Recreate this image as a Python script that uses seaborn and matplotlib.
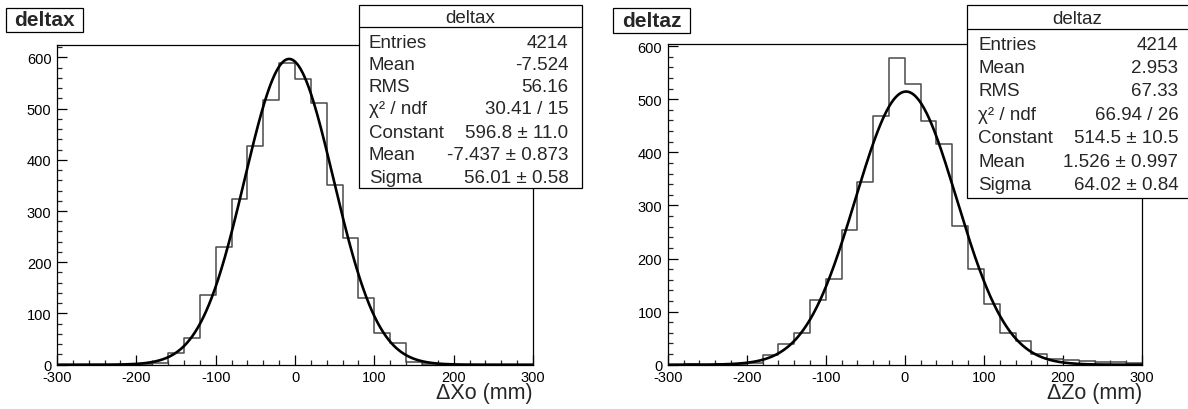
import numpy as np
import pandas as pd
import matplotlib
matplotlib.use("Agg")
import matplotlib.pyplot as plt
import seaborn as sns
from matplotlib.patches import Rectangle
from matplotlib.lines import Line2D
from matplotlib.ticker import MultipleLocator

# ---------------- data ----------------
bin_edges = list(range(-300, 301, 20))
bin_centers = [e + 10 for e in bin_edges[:-1]]

deltax_counts = [0, 0, 0, 0, 0, 1, 4, 22, 53, 136, 230, 324, 427, 516, 588,
                 558, 510, 350, 247, 131, 62, 42, 5, 2, 1, 0, 0, 0, 0, 0]
deltaz_counts = [0, 1, 0, 1, 1, 4, 18, 39, 59, 121, 161, 254, 344, 469, 577,
                 529, 459, 415, 261, 180, 114, 59, 45, 20, 11, 8, 7, 6, 5, 4]

# Gaussian fit parameters (constant, mean, sigma) from the stat boxes
deltax_fit = [596.8, -7.437, 56.01]
deltaz_fit = [514.5, 1.526, 64.02]

stat_names = ["Entries", "Mean", "RMS", "χ² / ndf", "Constant", "Mean", "Sigma"]
deltax_stat_values = ["4214", "-7.524", "56.16", "30.41 / 15",
                      "596.8 ± 11.0", "-7.437 ± 0.873", "56.01 ± 0.58"]
deltaz_stat_values = ["4214", "2.953", "67.33", "66.94 / 26",
                      "514.5 ± 10.5", "1.526 ± 0.997", "64.02 ± 0.84"]

titles = ["deltax", "deltaz"]
xlabels = ["ΔXo (mm)", "ΔZo (mm)"]
ymax = [625, 605]

# ---------------- style ----------------
sns.set_style("white")
plt.rcParams["font.family"] = ["Liberation Sans", "DejaVu Sans"]
plt.rcParams["axes.unicode_minus"] = False

W, H = 1188, 410
fig = plt.figure(figsize=(W / 100, H / 100), dpi=100)
fig.patch.set_facecolor("white")


def fx(px):
    return px / W


def fy(py):
    return 1 - py / H


axes_px = [(57, 45.5, 533, 365.7), (667.7, 44.5, 1142, 365.7)]
counts_all = [deltax_counts, deltaz_counts]
fits = [deltax_fit, deltaz_fit]

for i in range(2):
    x0, y0, x1, y1 = axes_px[i]
    ax = fig.add_axes([fx(x0), fy(y1), fx(x1 - x0), (y1 - y0) / H])
    df = pd.DataFrame({"x": bin_centers, "w": counts_all[i]})
    sns.histplot(data=df, x="x", weights="w", bins=bin_edges, element="step",
                 fill=False, color="#4a4a4a", linewidth=1.1, ax=ax)
    C, m, s = fits[i]
    xf = np.linspace(-300, 300, 1201)
    yf = C * np.exp(-0.5 * ((xf - m) / s) ** 2)
    sns.lineplot(x=xf, y=yf, color="black", linewidth=1.9, ax=ax)
    ax.set_xlim(-300, 300)
    ax.set_ylim(0, ymax[i])
    ax.set_xlabel("")
    ax.set_ylabel("")
    ax.xaxis.set_major_locator(MultipleLocator(100))
    ax.xaxis.set_minor_locator(MultipleLocator(20))
    ax.yaxis.set_major_locator(MultipleLocator(100))
    ax.yaxis.set_minor_locator(MultipleLocator(20))
    ax.tick_params(which="major", direction="in", length=7, width=0.9,
                   bottom=True, left=True, top=False, right=False,
                   labelsize=10.5, pad=4, colors="black")
    ax.tick_params(which="minor", direction="in", length=3.5, width=0.9,
                   bottom=True, left=True, top=False, right=False)
    for sp in ax.spines.values():
        sp.set_visible(True)
        sp.set_color("black")
        sp.set_linewidth(0.9)
    ax.grid(False)

    # x label at right end
    fig.text(fx(x1), fy(394), xlabels[i], ha="right", va="center", fontsize=15.5)

# ---------------- title boxes ----------------
title_boxes = [(5.7, 9.3, 82.7, 32.7), (613, 8.5, 690, 34)]
for i in range(2):
    bx0, by0, bx1, by1 = title_boxes[i]
    fig.add_artist(Rectangle((fx(bx0), fy(by1)), fx(bx1 - bx0), (by1 - by0) / H,
                             transform=fig.transFigure, facecolor="white",
                             edgecolor="black", linewidth=0.9))
    fig.text(fx((bx0 + bx1) / 2), fy((by0 + by1) / 2), titles[i], ha="center",
             va="center", fontsize=15, fontweight="bold")

# ---------------- stat boxes ----------------
stat_boxes = [(359, 6, 582, 189.3), (967.3, 6, 1190, 199.3)]
header_line = [28.3, 30]
header_y = [18.5, 19.5]
row_y = [[43.3, 65, 87.3, 110, 133, 156, 178.3],
         [45, 68.3, 91.7, 115, 138.3, 162.3, 186]]
label_x = [369, 978.3]
value_x = [568.3, 1178.3]
header_x = [470.5, 1077]
stat_values = [deltax_stat_values, deltaz_stat_values]

for i in range(2):
    bx0, by0, bx1, by1 = stat_boxes[i]
    fig.add_artist(Rectangle((fx(bx0), fy(by1)), fx(bx1 - bx0), (by1 - by0) / H,
                             transform=fig.transFigure, facecolor="white",
                             edgecolor="black", linewidth=0.9, zorder=5))
    fig.add_artist(Line2D([fx(bx0), fx(bx1)], [fy(header_line[i])] * 2,
                          transform=fig.transFigure, color="black",
                          linewidth=0.9, zorder=6))
    fig.text(fx(header_x[i]), fy(header_y[i]), titles[i], ha="center",
             va="center", fontsize=13.5, zorder=7)
    for name, val, yy in zip(stat_names, stat_values[i], row_y[i]):
        fig.text(fx(label_x[i]), fy(yy), name, ha="left", va="center",
                 fontsize=13.5, zorder=7)
        fig.text(fx(value_x[i]), fy(yy), val, ha="right", va="center",
                 fontsize=13.5, zorder=7)

fig.savefig("out.png", dpi=100, facecolor="white")
